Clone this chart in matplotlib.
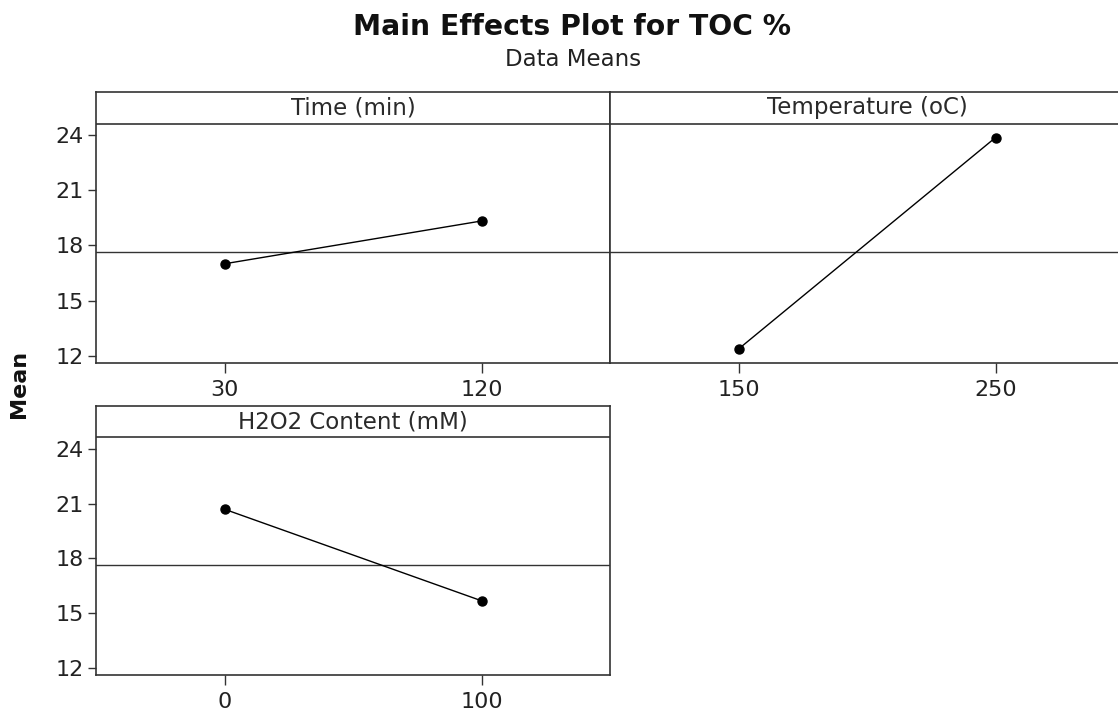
import matplotlib
matplotlib.use("Agg")
import matplotlib.pyplot as plt

# factor levels and response means
time_levels = ["30", "120"]
time_means = [17.0, 19.33]

temp_levels = ["150", "250"]
temp_means = [12.36, 23.87]

h2o2_levels = ["0", "100"]
h2o2_means = [20.69, 15.67]

grand_mean = 17.65
y_ticks = [12, 15, 18, 21, 24]

W, H = 1118, 714
fig = plt.figure(figsize=(W / 100, H / 100), dpi=100)
plt.rcParams["font.family"] = "DejaVu Sans"

edge = "#333333"
ylo, yhi, strip_y = 11.6, 26.35, 24.63


def px_axes(left, top, right, bottom):
    return fig.add_axes([left / W, 1 - bottom / H, (right - left) / W, (bottom - top) / H])


def panel(ax, levels, means, title, show_y):
    x = list(range(1, len(levels) + 1))
    ax.plot(x, means, color="black", lw=1.0, marker="o", markersize=6.5, zorder=3)
    ax.axhline(grand_mean, color=edge, lw=1.0)
    ax.axhline(strip_y, color=edge, lw=1.2)
    ax.text(0.5 * (x[0] + x[-1]), 0.5 * (strip_y + yhi), title, ha="center", va="center",
            fontsize=16.5, color="#2a2a2a")
    ax.set_xlim(0.5, len(levels) + 0.5)
    ax.set_ylim(ylo, yhi)
    ax.set_xticks(x)
    ax.set_xticklabels(levels)
    ax.tick_params(axis="x", direction="out", length=7, width=1.0, color=edge,
                   labelsize=16, labelcolor="#222222", pad=5)
    if show_y:
        ax.set_yticks(y_ticks)
        ax.tick_params(axis="y", direction="out", length=6, width=1.0, color=edge,
                       labelsize=16, labelcolor="#222222", pad=3)
    else:
        ax.set_yticks([])
    for s in ax.spines.values():
        s.set_color(edge)
        s.set_linewidth(1.2)


ax1 = px_axes(96, 92, 610, 363)
ax2 = px_axes(610, 92, 1124, 363)
ax3 = px_axes(96, 406, 610, 675)

panel(ax1, time_levels, time_means, "Time (min)", True)
panel(ax2, temp_levels, temp_means, "Temperature (oC)", False)
panel(ax3, h2o2_levels, h2o2_means, "H2O2 Content (mM)", True)

fig.text(572 / W, 1 - 27 / H, "Main Effects Plot for TOC %", ha="center", va="center",
         fontsize=20.3, fontweight="bold", color="#111111")
fig.text(573 / W, 1 - 59 / H, "Data Means", ha="center", va="center",
         fontsize=16.5, color="#222222")
fig.text(19 / W, 1 - 384 / H, "Mean", ha="center", va="center", rotation=90,
         fontsize=16, fontweight="bold", color="#111111")

fig.savefig("out.png", dpi=100)
